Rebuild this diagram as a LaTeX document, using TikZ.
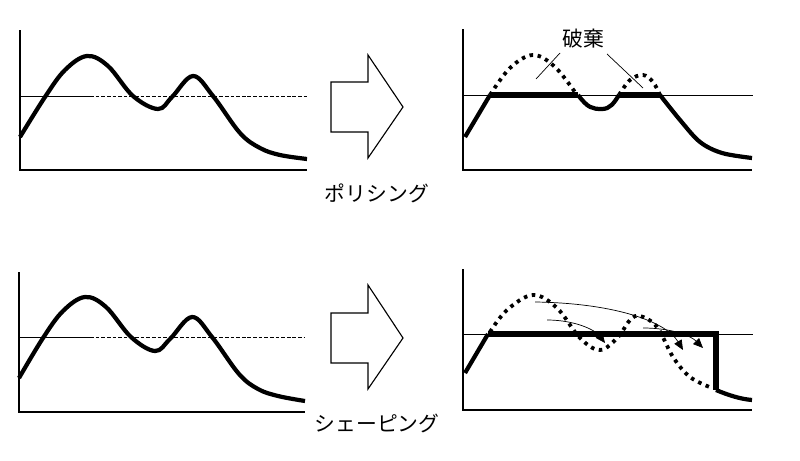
\documentclass[tikz,border=0pt]{standalone}
\usepackage{fontspec}
\newfontfamily\jpfont{Noto Sans CJK JP}
\usetikzlibrary{arrows.meta}
\tikzset{
  axisline/.style={line width=1.4pt},
  thresh/.style={line width=0.6pt},
  threshdash/.style={line width=0.6pt, dash pattern=on 2.6pt off 1.4pt},
  wave/.style={line width=3pt, line join=round},
  flat/.style={line width=3.6pt},
  dotwave/.style={line width=2.7pt, dash pattern=on 2.5pt off 3.3pt},
  leader/.style={line width=0.5pt},
  shift arrow/.style={line width=0.5pt, -{Triangle[length=7pt,width=6pt]}},
  blockarrow/.style={line width=0.8pt, fill=white, line join=miter},
  lbl/.style={font=\jpfont\fontsize{14.8}{17}\selectfont, inner sep=0pt}
}
\begin{document}
\begin{tikzpicture}[x=0.025cm, y=-0.025cm]
\useasboundingbox (0,0) rectangle (800,460);

% ---------- top-left panel ----------
\draw[axisline] (20,30) -- (20,170) -- (307,170);
\draw[thresh] (20,96) -- (90,96);
\draw[threshdash] (90,96) -- (307,96);
\draw[wave] plot[smooth, tension=0.6] coordinates {(20,137) (45,97) (65,70) (87,56) (108,66) (133,96) (158,109) (172,97) (193,76) (213,96) (240,133) (260,148) (280,155) (307,159)};

% ---------- bottom-left panel ----------
\draw[axisline] (19,272) -- (19,412) -- (305,412);
\draw[thresh] (19,337) -- (90,337);
\draw[threshdash] (90,337) -- (305,337);
\draw[wave] plot[smooth, tension=0.6] coordinates {(19,378) (43,338) (63,311) (85,297) (106,307) (131,337) (155,351) (170,339) (192,317) (212,337) (239,374) (258,389) (278,396) (305,401)};

% ---------- block arrows ----------
\draw[blockarrow] (331,82) -- (368,82) -- (368,55) -- (403,107) -- (368,158) -- (368,132) -- (331,132) -- cycle;
\node[lbl] (policing) at (377,193) {ポリシング};

\draw[blockarrow] (331,313) -- (368,313) -- (368,285) -- (403,338) -- (368,389) -- (368,363) -- (331,363) -- cycle;
\node[lbl] (shaping) at (377,423) {シェーピング};

% ---------- top-right panel (policing) ----------
\draw[axisline] (463,29) -- (463,170) -- (752,170);
\draw[thresh] (463,95) -- (753,95);
\draw[dotwave] plot[smooth, tension=0.6] coordinates {(490,95) (510,68) (533,55) (555,67) (577,95)};
\draw[dotwave] plot[smooth, tension=0.6] coordinates {(619,95) (630,80) (643,75) (653,82) (660,95)};
\draw[wave] (465,137) -- (490,95);
\draw[flat] (490,95) -- (578,95);
\draw[wave] (578,95) .. controls (588,108) and (592,109) .. (602,109) .. controls (610,109) and (614,103) .. (619,95);
\draw[flat] (619,95) -- (660,95);
\draw[wave] plot[smooth, tension=0.55] coordinates {(660,95) (680,120) (700,142) (722,153) (752,158)};
\node[lbl] (discard) at (583,39) {破棄};
\coordinate (l1a) at (560,53);
\coordinate (l1b) at (536,79);
\coordinate (l2a) at (607,54);
\coordinate (l2b) at (643,88);
\draw[leader] (l1a) -- (l1b);
\draw[leader] (l2a) -- (l2b);

% ---------- bottom-right panel (shaping) ----------
\draw[axisline] (463,269) -- (463,410) -- (752,410);
\draw[thresh] (463,334) -- (753,334);
\draw[dotwave] plot[smooth, tension=0.6] coordinates {(490,332) (507,310) (533,295) (557,308) (580,338) (600,350) (618,337) (630,320) (640,316) (657,327) (673,357) (690,377) (712,388)};
\draw[wave] (465,373) -- (488,334);
\draw[flat] (488,334) -- (716,334) -- (716,390);
\draw[wave] (716,390) .. controls (728,395) and (740,399) .. (752,400);
\coordinate (s1a) at (547,320);
\coordinate (s1b) at (605,343);
\coordinate (s2a) at (535,302);
\coordinate (s2b) at (683,350);
\coordinate (s3a) at (643,328);
\coordinate (s3b) at (703,348);
\draw[shift arrow] (s1a) .. controls (575,320) and (595,330) .. (s1b);
\draw[shift arrow] (s2a) .. controls (610,303) and (665,320) .. (s2b);
\draw[shift arrow] (s3a) .. controls (670,328) and (690,335) .. (s3b);
\end{tikzpicture}
\end{document}
